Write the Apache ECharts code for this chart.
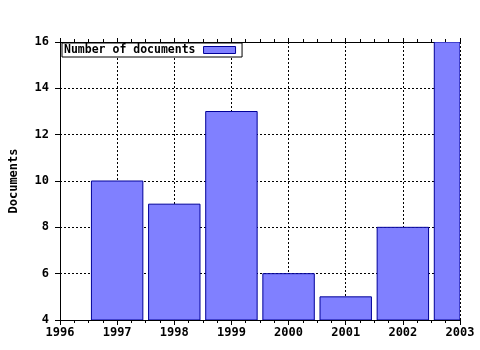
<!DOCTYPE html>
<html>
<head>
<meta charset="utf-8">
<script src="https://cdn.jsdelivr.net/npm/echarts@6/dist/echarts.min.js"></script>
<style>html,body{margin:0;padding:0;background:#fff}#c{width:480px;height:350px}</style>
</head>
<body>
<div id="c"></div>
<script>
var years = [1997, 1998, 1999, 2000, 2001, 2002, 2003];
var documents = [10, 9, 13, 6, 5, 8, 16];
var xTicks = [1996, 1997, 1998, 1999, 2000, 2001, 2002, 2003];
var yTicks = [4, 6, 8, 10, 12, 14, 16];
var seriesName = 'Number of documents';
var yTitle = 'Documents';

var FONT = '"DejaVu Sans Mono", monospace';
var FILL = '#8080ff', EDGE = '#000099';
var chart = echarts.init(document.getElementById('c'), null, {renderer: 'canvas'});
var data = years.map(function (y, i) { return [y, documents[i]]; });
var yMin = yTicks[0];

chart.setOption({
  animation: false,
  backgroundColor: '#ffffff',
  grid: {left: 58, right: 20, top: 42, bottom: 30, containLabel: false},
  legend: {
    data: [{name: seriesName, icon: 'rect', itemStyle: {color: FILL, borderColor: EDGE, borderWidth: 1}}],
    left: 62, top: 43,
    orient: 'horizontal',
    align: 'right',
    backgroundColor: '#ffffff',
    borderColor: '#000000',
    borderWidth: 1,
    borderRadius: 0,
    padding: [1, 6, 1, 2],
    itemWidth: 32, itemHeight: 7, itemGap: 4,
    textStyle: {fontFamily: FONT, fontWeight: 'bold', fontSize: 11.5, color: '#000', padding: [0, 3, 0, 0]}
  },
  xAxis: [{
    type: 'value',
    min: xTicks[0], max: xTicks[xTicks.length - 1], interval: 1,
    axisLine: {show: true, lineStyle: {color: '#000', width: 1}},
    axisTick: {show: true, length: 5, lineStyle: {color: '#000'}},
    minorTick: {show: true, splitNumber: 4, length: 3, lineStyle: {color: '#000'}},
    axisLabel: {fontFamily: FONT, fontWeight: 'bold', fontSize: 12, color: '#000', margin: 7,
      formatter: function (v) { return String(v); }},
    splitLine: {show: true, lineStyle: {color: '#000', type: [2, 2], width: 1}}
  }, {
    type: 'value', position: 'top',
    min: xTicks[0], max: xTicks[xTicks.length - 1], interval: 1,
    axisLine: {show: true, lineStyle: {color: '#000', width: 1}},
    axisTick: {show: true, length: 4, lineStyle: {color: '#000'}},
    minorTick: {show: true, splitNumber: 4, length: 3, lineStyle: {color: '#000'}},
    axisLabel: {show: false},
    splitLine: {show: false}
  }],
  yAxis: {
    type: 'value',
    min: yTicks[0], max: yTicks[yTicks.length - 1], interval: 2,
    name: yTitle, nameLocation: 'middle', nameGap: 40,
    nameTextStyle: {fontFamily: FONT, fontWeight: 'bold', fontSize: 12, color: '#000'},
    axisLine: {show: true, lineStyle: {color: '#000', width: 1}},
    axisTick: {show: true, length: 5, lineStyle: {color: '#000'}},
    axisLabel: {fontFamily: FONT, fontWeight: 'bold', fontSize: 12, color: '#000', margin: 11},
    splitLine: {show: true, lineStyle: {color: '#000', type: [2, 2], width: 1}}
  },
  series: [{
    name: seriesName,
    type: 'custom',
    xAxisIndex: 0,
    clip: true,
    data: data,
    encode: {x: 0, y: 1},
    itemStyle: {color: FILL, borderColor: EDGE, borderWidth: 1},
    renderItem: function (params, api) {
      var x = api.value(0), v = api.value(1);
      var top = api.coord([x, v]);
      var base = api.coord([x, yMin]);
      var w = api.size([0.9, 0])[0];
      var rect = {x: top[0] - w / 2, y: top[1], width: w, height: base[1] - top[1]};
      var cs = params.coordSys;
      var clipped = echarts.graphic.clipRectByRect(rect, {x: cs.x, y: cs.y, width: cs.width, height: cs.height});
      if (!clipped) return;
      return {
        type: 'rect',
        shape: clipped,
        style: {fill: FILL, stroke: EDGE, lineWidth: 1}
      };
    }
  }]
});
</script>
</body>
</html>
